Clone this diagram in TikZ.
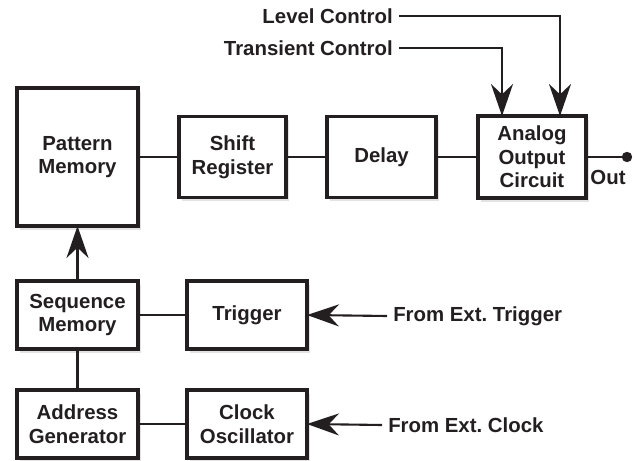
\documentclass[tikz,border=0pt]{standalone}
\usepackage{fontspec}
\setmainfont{Liberation Sans}
\usepackage{tikz}
\usetikzlibrary{arrows.meta,positioning,shadows,calc}
\frenchspacing
\definecolor{InkBlack}{HTML}{231F20}
\tikzset{
  block/.style={rectangle,draw=InkBlack,line width=2.2pt,outer sep=0pt,fill=white,align=center,font=\fontsize{14.5}{16.8}\selectfont\bfseries,text=InkBlack,drop shadow={opacity=0.22,shadow xshift=2pt,shadow yshift=-2.5pt}},
  sigtext/.style={font=\fontsize{14.5}{16.8}\selectfont\bfseries,text=InkBlack,inner sep=0.15cm},
  wire/.style={line width=1.5pt,color=InkBlack},
  arrow/.style={-{Stealth[length=0.8cm,width=0.55cm,inset=0.26cm]},line width=1.5pt,color=InkBlack},
  dot/.style={circle,fill=InkBlack,inner sep=0pt,minimum size=0.26cm},
}

\begin{document}
\begin{tikzpicture}
  \useasboundingbox[fill=white] (0,0) rectangle (15.925,-11.525);
  % ── Signal Chain ──
  \node[block, minimum width=3.025cm, minimum height=3.45cm] (pm) at (1.9375,-3.925) {Pattern\\Memory};
  \node[block, minimum width=2.675cm, minimum height=2.025cm, right=1.025cm of pm] (sr) {Shift\\Register};
  \node[block, minimum width=2.725cm, minimum height=2.025cm, right=1.025cm of sr] (dly) {Delay};
  \node[block, minimum width=2.7cm, minimum height=2.05cm, right=1.05cm of dly] (aoc) {Analog\\Output\\Circuit};

  % ── Control Section ──
  \node[block, minimum width=3.025cm, minimum height=1.7cm, below=1.375cm of pm] (seq) {Sequence\\Memory};
  \node[block, minimum width=3.0cm, minimum height=1.7cm, right=1.225cm of seq] (trig) {Trigger};
  \node[block, minimum width=3.025cm, minimum height=1.7cm, below=1.025cm of seq] (addr) {Address\\Generator};
  \node[block, minimum width=3.0cm, minimum height=1.7cm, right=1.225cm of addr] (clk) {Clock\\Oscillator};

  % ── Outside Signals ──
  \node[sigtext, anchor=east] (lvl) at (9.975,-0.4) {Level Control};
  \node[sigtext, anchor=east] (trn) at (9.975,-1.2) {Transient Control};
  \node[sigtext, anchor=west] (exttrig) at (9.675,-7.9) {From Ext. Trigger};
  \node[sigtext, anchor=west] (extclk) at (9.55,-10.625) {From Ext. Clock};
  \node[dot] (outdot) at ([xshift=1.025cm]aoc.east) {};
  \node[sigtext, inner sep=0pt] (outlbl) at ([xshift=-0.475cm,yshift=-0.52cm]outdot) {Out};

  % ── Arrows ──
  \draw[wire] (pm) -- (sr);
  \draw[wire] (sr) -- (dly);
  \draw[wire] (dly) -- (aoc);
  \draw[wire] (aoc.east) -- (outdot);
  \draw[arrow] (lvl.east) -| ([xshift=0.7cm]aoc.north);
  \draw[arrow] (trn.east) -| ([xshift=-0.75cm]aoc.north);
  \draw[arrow] (seq) -- (pm);
  \draw[wire] (seq) -- (trig);
  \draw[wire] (seq) -- (addr);
  \draw[wire] (addr) -- (clk);
  \draw[arrow] (exttrig.west) -- (trig.east);
  \draw[arrow] (extclk.west) -- (clk.east);
\end{tikzpicture}
\end{document}
